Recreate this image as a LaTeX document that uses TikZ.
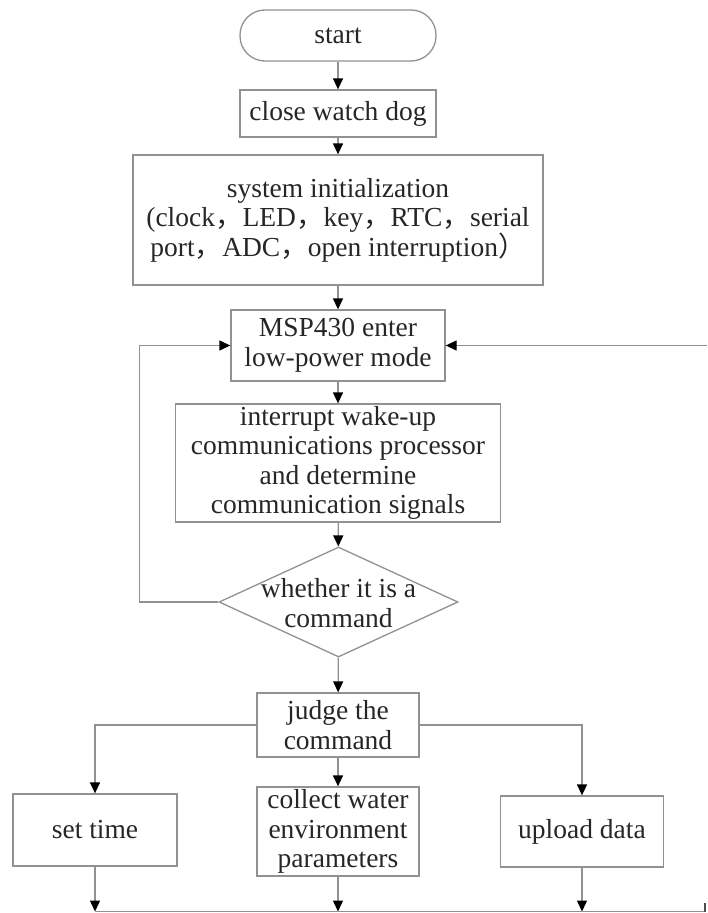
\documentclass[tikz,border=0pt]{standalone}
\usepackage{fontspec}
\setmainfont{Liberation Serif}
\newfontfamily\cjk{Noto Sans CJK SC}
\usetikzlibrary{arrows.meta,shapes.geometric}
\definecolor{lineg}{RGB}{145,145,145}
\newcommand{\fwc}{{\cjk ，}}
\newcommand{\fwrp}{{\cjk ）}}
\begin{document}
\begin{tikzpicture}[x=1pt,y=-1pt,
  every node/.style={font=\fontsize{27.5}{29.5}\selectfont, align=center, inner sep=0pt, text=black!85},
  box/.style={draw=lineg, line width=1.3pt, rectangle},
  conn/.style={draw=lineg, line width=1.3pt},
  arr/.style={conn, -{Triangle[length=11pt,width=10pt,color=black]}},
]
\useasboundingbox (0,0) rectangle (707,913);

\node[box, rounded corners=25pt, minimum width=196pt, minimum height=51pt] (start) at (338,35.5) {start};
\node[box, minimum width=196pt, minimum height=47pt] (cwd) at (338,113.5) {close watch dog};
\node[box, minimum width=410pt, minimum height=130pt] (init) at (338,220) {system initialization\\(clock\fwc LED\fwc key\fwc RTC\fwc serial\\port\fwc ADC\fwc open interruption\fwrp};
\node[box, minimum width=214pt, minimum height=71pt] (msp) at (338,345.5) {MSP430 enter\\low-power mode};
\node[box, minimum width=325pt, minimum height=118pt] (intr) at (338,463) {interrupt wake-up\\communications processor\\and determine\\communication signals};
\node[draw=lineg, line width=1.3pt, diamond, minimum width=239pt, minimum height=110pt] (dec) at (338.5,602) {};
\node (dectext) at (338.5,603) {whether it is a\\command};
\node[box, minimum width=162pt, minimum height=64pt] (judge) at (338,725) {judge the\\command};
\node[box, minimum width=164pt, minimum height=72pt] (settime) at (95,830) {set time};
\node[box, minimum width=162pt, minimum height=89pt] (collect) at (338,831.5) {collect water\\environment\\parameters};
\node[box, minimum width=163pt, minimum height=71pt] (upload) at (582,831.5) {upload data};

\coordinate (re) at (707,345.5);
\coordinate (bl) at (95,911.5);
\coordinate (br) at (705,911.5);
\coordinate (brt) at (705,903);

\draw[arr] (start) -- (cwd);
\draw[arr] (cwd) -- (init);
\draw[arr] (init) -- (msp);
\draw[arr] (msp) -- (intr);
\draw[arr] (intr) -- (dec);
\draw[arr] (dec.west) -- ++(-79,0) |- (msp.west);
\draw[arr] (re) -- (msp.east);
\draw[arr] (dec) -- (judge);
\draw[arr] (judge.west) -| (settime.north);
\draw[arr] (judge) -- (collect);
\draw[arr] (judge.east) -| (upload.north);
\draw[arr] (settime.south) -- (settime.south |- bl);
\draw[arr] (collect.south) -- (collect.south |- bl);
\draw[arr] (upload.south) -- (upload.south |- bl);
\draw[conn] (bl) -- (br);
\draw[conn, draw=black!70] (br) -- (brt);
\end{tikzpicture}
\end{document}
